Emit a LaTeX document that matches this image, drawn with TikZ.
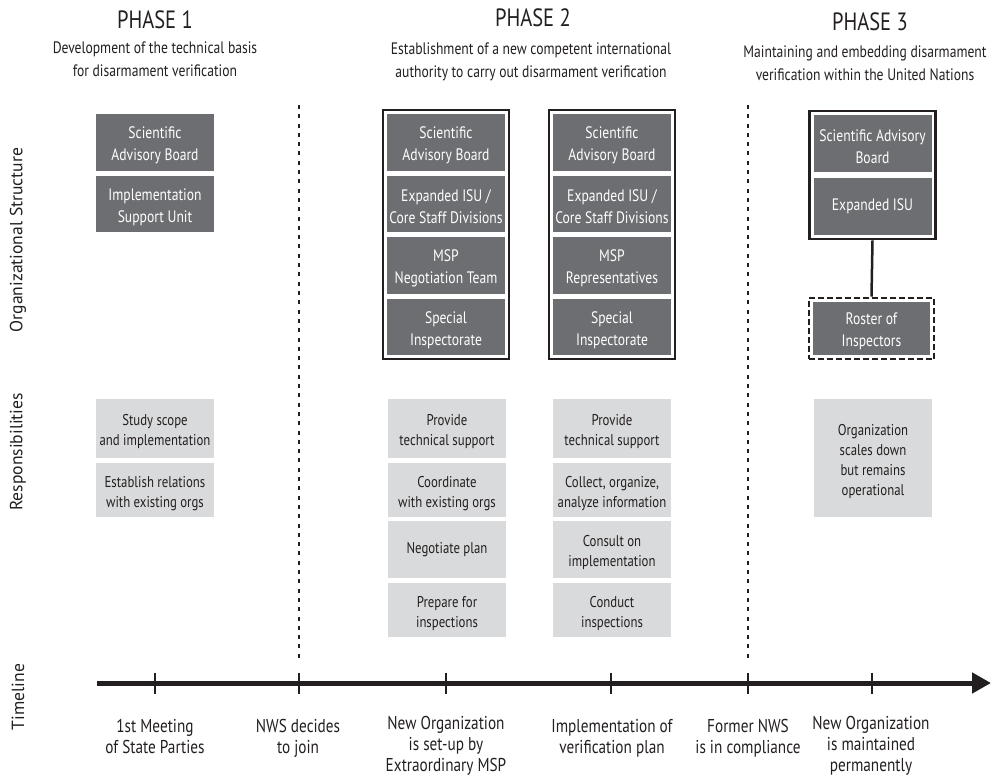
\documentclass[tikz,border=0pt]{standalone}
\usepackage{fontspec}
\setmainfont{PT Sans}[FakeStretch=0.82]
\newfontfamily\axisfont{PT Sans}
\usetikzlibrary{arrows.meta,fit}

\definecolor{orgfill}{HTML}{6D6E71}
\definecolor{respfill}{HTML}{D9DADB}
\definecolor{ink}{HTML}{231F20}

% taller first line, so that stacked labels sit a little lower in their boxes
\newcommand{\tallfirst}{\rule{0pt}{18pt}}

\tikzset{
  orgbox/.style={fill=orgfill, text=white, minimum width=118pt, minimum height=56pt,
    inner sep=0pt, align=center, font=\fontsize{16.6}{22}\selectfont},
  respbox/.style={fill=respfill, text=ink, minimum width=118pt, inner sep=0pt,
    align=center, font=\fontsize{15.6}{20}\selectfont},
  groupframe/.style={draw=ink, line width=2.5pt, inner sep=4pt},
  rosterframe/.style={draw=ink, line width=2.5pt, inner sep=4pt, dash pattern=on 6pt off 3pt},
  phasetitle/.style={text=ink, font=\fontsize{25}{28}\selectfont},
  phasesub/.style={text=ink, align=center, font=\fontsize{16.6}{23}\selectfont},
  axislabel/.style={text=ink, rotate=90, font=\axisfont\fontsize{17.6}{20}\selectfont},
  eventlabel/.style={text=ink, align=center, anchor=north, font=\fontsize{18.6}{21}\selectfont},
  phasedivider/.style={draw=ink, line width=2pt, dash pattern=on 4pt off 5.3pt},
  tick/.style={draw=ink, line width=2pt},
}

\begin{document}
\begin{tikzpicture}[x=1pt, y=-1pt]
\useasboundingbox (0,0) rectangle (999,778);

% ---- phase headings ----
\node[phasetitle] (ph1) at (155,20) {PHASE 1};
\node[phasetitle] (ph2) at (533,18) {PHASE 2};
\node[phasetitle] (ph3) at (870,22) {PHASE 3};
\node[phasesub] (ph1s) at (155,59.5) {Development of the technical basis\\for disarmament verification};
\node[phasesub] (ph2s) at (531,61.5) {Establishment of a new competent international\\authority to carry out disarmament verification};
\node[phasesub] (ph3s) at (865,63.5) {Maintaining and embedding disarmament\\verification within the United Nations};

% ---- row labels ----
\node[axislabel] (rowOrg) at (18,240) {Organizational Structure};
\node[axislabel] (rowResp) at (18,452) {Responsibilities};
\node[axislabel] (rowTime) at (18,697) {Timeline};

% ---- phase dividers ----
\coordinate (d1a) at (299,105);
\coordinate (d1b) at (299,662);
\coordinate (d2a) at (748,105);
\coordinate (d2b) at (748,662);
\draw[phasedivider] (d1a) -- (d1b);
\draw[phasedivider] (d2a) -- (d2b);

% ---- organizational structure: phase 1 ----
\node[orgbox, minimum height=57pt] (p1o1) at (155,142.5) {\tallfirst Scientific\\Advisory Board};
\node[orgbox] (p1o2) at (155,204) {\tallfirst Implementation\\Support Unit};

% ---- organizational structure: phase 2, negotiation ----
\node[orgbox, minimum height=57pt] (p2a1) at (446,142.5) {\tallfirst Scientific\\Advisory Board};
\node[orgbox] (p2a2) at (446,204) {\tallfirst Expanded ISU /\\Core Staff Divisions};
\node[orgbox, minimum height=57pt] (p2a3) at (446,265.5) {\tallfirst MSP\\Negotiation Team};
\node[orgbox] (p2a4) at (446,327) {\tallfirst Special\\Inspectorate};
\node[groupframe, fit=(p2a1)(p2a4)] (p2aframe) {};

% ---- organizational structure: phase 2, implementation ----
\node[orgbox, minimum height=57pt] (p2b1) at (612,142.5) {\tallfirst Scientific\\Advisory Board};
\node[orgbox] (p2b2) at (612,204) {\tallfirst Expanded ISU /\\Core Staff Divisions};
\node[orgbox, minimum height=57pt] (p2b3) at (612,265.5) {\tallfirst MSP\\Representatives};
\node[orgbox] (p2b4) at (612,327) {\tallfirst Special\\Inspectorate};
\node[groupframe, fit=(p2b1)(p2b4)] (p2bframe) {};

% ---- organizational structure: phase 3 ----
\node[orgbox, minimum height=57pt] (p3o1) at (872.5,143.5) {\tallfirst Scientific Advisory\\Board};
\node[orgbox, minimum height=57pt] (p3o2) at (872.5,206.5) {Expanded ISU};
\node[groupframe, fit=(p3o1)(p3o2)] (p3frame) {};
\node[orgbox, minimum width=117pt, minimum height=53pt] (p3roster) at (871.5,328.5) {\tallfirst Roster of\\Inspectors};
\node[rosterframe, fit=(p3roster)] (p3rframe) {};
\draw[draw=ink, line width=2.5pt] (p3frame.south) -- (p3rframe.north);

% ---- responsibilities ----
\node[respbox, minimum height=59pt] (r1a) at (155,428.5) {\tallfirst Study scope\\and implementation};
\node[respbox, minimum height=54pt] (r1b) at (155,490) {\tallfirst Establish relations\\with existing orgs};

\node[respbox, minimum height=59pt] (r2a1) at (447,428.5) {\tallfirst Provide\\technical support};
\node[respbox, minimum height=54pt] (r2a2) at (447,490) {\tallfirst Coordinate\\with existing orgs};
\node[respbox, minimum height=57pt] (r2a3) at (447,549.5) {Negotiate plan};
\node[respbox, minimum height=54pt] (r2a4) at (447,610) {\tallfirst Prepare for\\inspections};

\node[respbox, minimum height=59pt] (r2b1) at (612,428.5) {\tallfirst Provide\\technical support};
\node[respbox, minimum height=54pt] (r2b2) at (612,490) {\tallfirst Collect, organize,\\analyze information};
\node[respbox, minimum height=57pt] (r2b3) at (612,549.5) {\tallfirst Consult on\\implementation};
\node[respbox, minimum height=54pt] (r2b4) at (612,610) {\tallfirst Conduct\\inspections};

\node[respbox, minimum height=118pt] (r3) at (873,458) {\tallfirst Organization\\scales down\\but remains\\operational};

% ---- timeline ----
\coordinate (tlstart) at (97,683);
\coordinate (tlend) at (991,683);
\draw[draw=ink, line width=5pt, -{Triangle[length=19pt,width=20pt]}] (tlstart) -- (tlend);

\foreach \name/\x in {t1/155, t2/299, t3/446, t4/611, t5/748, t6/872}{
  \coordinate (\name) at (\x,683);
  \draw[tick] (\name) ++(0,-10.5) -- ++(0,21);
}

\node[eventlabel] (e1) at (155,716) {1st Meeting\\of State Parties};
\node[eventlabel] (e2) at (298,716) {NWS decides\\to join};
\node[eventlabel] (e3) at (446,713) {New Organization\\is set-up by\\Extraordinary MSP};
\node[eventlabel] (e4) at (612,716) {Implementation of\\verification plan};
\node[eventlabel] (e5) at (748,716) {Former NWS\\is in compliance};
\node[eventlabel] (e6) at (871,713) {New Organization\\is maintained\\permanently};
\end{tikzpicture}
\end{document}
